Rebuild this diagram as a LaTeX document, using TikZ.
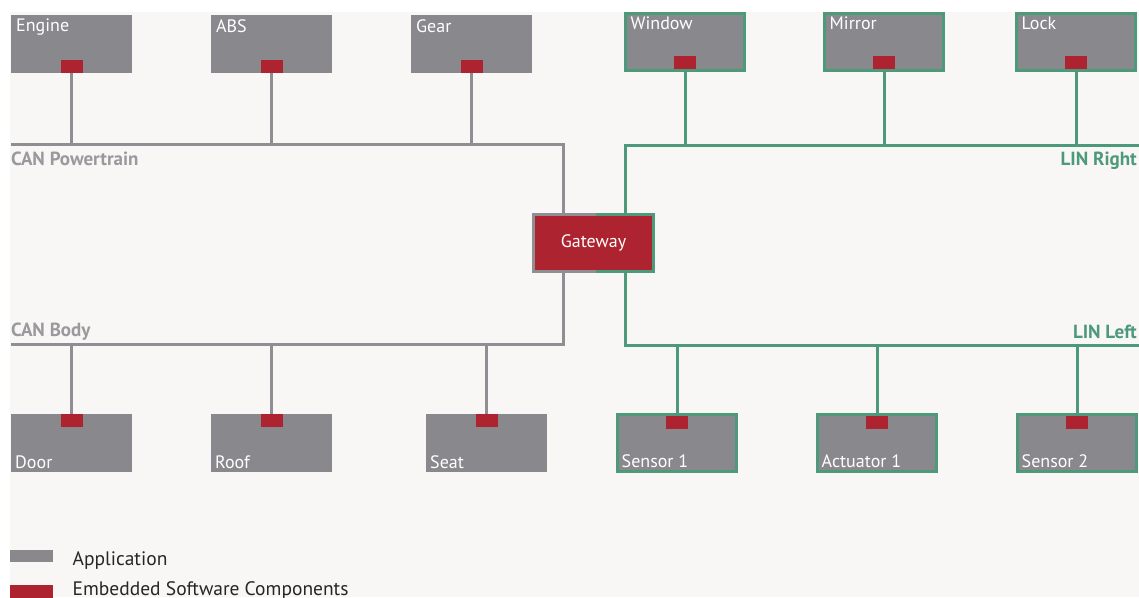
\documentclass[tikz,border=0pt]{standalone}
\usepackage{fontspec}
\setmainfont{PT Sans}
\usetikzlibrary{positioning}
\definecolor{appGray}{HTML}{89888C}
\definecolor{busGray}{HTML}{8F8E92}
\definecolor{lblGray}{HTML}{9A999D}
\definecolor{swcRed}{HTML}{AE2330}
\definecolor{linGreen}{HTML}{4D9A7A}
\definecolor{paper}{HTML}{F8F7F5}
\tikzset{
	ecu/.style={fill=appGray,minimum width=121pt,minimum height=58pt,inner sep=0pt,outer sep=0pt,anchor=north west},
	ecuLin/.style={ecu,draw=linGreen,line width=3pt,minimum width=119pt,minimum height=57pt},
	topTxt/.style={anchor=north west,text=white,inner sep=0pt,xshift=5pt,yshift=-4pt,font=\fontsize{18}{20}\selectfont},
	botTxt/.style={anchor=base west,text=white,inner sep=0pt,xshift=4pt,yshift=4pt,font=\fontsize{18}{20}\selectfont},
	swc/.style={fill=swcRed,minimum width=22pt,minimum height=13pt,inner sep=0pt,outer sep=0pt},
	canBus/.style={draw=busGray,line width=3pt},
	linBus/.style={draw=linGreen,line width=3pt},
	busLbl/.style={inner sep=0pt,font=\fontsize{19}{21}\selectfont\bfseries},
	legTxt/.style={inner sep=0pt,font=\fontsize{19.5}{21}\selectfont,text=black!85}
}
\begin{document}
\begin{tikzpicture}[x=1pt,y=-1pt]
	\useasboundingbox[fill=white] (0,0) rectangle (1139,597);
	\fill[paper] (10,12) rectangle (1139,597);
	% bus corners
	\coordinate (canPtW) at (11,144);
	\coordinate (canPtE) at (563,144);
	\coordinate (linRtW) at (625,145);
	\coordinate (linRtE) at (1139,145);
	\coordinate (canBdW) at (11,344);
	\coordinate (canBdE) at (563,344);
	\coordinate (linLfW) at (625,345);
	\coordinate (linLfE) at (1139,345);
	% top row
	\node[ecu,label={[topTxt]north west:Engine}] (engine) at (11,15) {};
	\node[ecu,label={[topTxt]north west:ABS}] (abs) at (211,15) {};
	\node[ecu,label={[topTxt]north west:Gear}] (gear) at (411,15) {};
	\node[ecuLin,label={[topTxt,yshift=1pt]north west:Window}] (window) at (625.5,13.5) {};
	\node[ecuLin,label={[topTxt,yshift=1pt]north west:Mirror}] (mirror) at (824.5,13.5) {};
	\node[ecuLin,label={[topTxt,yshift=1pt]north west:Lock}] (lock) at (1016.5,13.5) {};
	% bottom row
	\node[ecu,label={[botTxt]south west:Door}] (door) at (11,414) {};
	\node[ecu,label={[botTxt]south west:Roof}] (roof) at (211,414) {};
	\node[ecu,label={[botTxt]south west:Seat}] (seat) at (426,414) {};
	\node[ecuLin,label={[botTxt]south west:Sensor 1}] (sensorA) at (617.5,414.5) {};
	\node[ecuLin,label={[botTxt]south west:Actuator 1}] (actuator) at (817.5,414.5) {};
	\node[ecuLin,label={[botTxt]south west:Sensor 2}] (sensorB) at (1017.5,414.5) {};
	% gateway
	\node[fill=swcRed,minimum width=120pt,minimum height=57pt,inner sep=0pt,outer sep=0pt,text=white,font=\fontsize{18}{20}\selectfont] (gw) at (593.5,243) {Gateway};
	\draw[canBus] ([xshift=2.5pt]gw.north) -- (gw.north west) -- (gw.south west) -- ([xshift=2.5pt]gw.south);
	\draw[linBus] ([xshift=2.5pt]gw.north) -- (gw.north east) -- (gw.south east) -- ([xshift=2.5pt]gw.south);
	% embedded software components
	\foreach \n in {engine,abs,gear}
		\node[swc,anchor=south] (\n-swc) at (\n.south) {};
	\foreach \n in {window,mirror,lock}
		\node[swc,anchor=south] (\n-swc) at ([yshift=1.5pt]\n.south) {};
	\foreach \n in {door,roof,seat}
		\node[swc,anchor=north] (\n-swc) at (\n.north) {};
	\foreach \n in {sensorA,actuator,sensorB}
		\node[swc,anchor=north] (\n-swc) at ([yshift=-1.5pt]\n.north) {};
	% buses
	\draw[canBus] (canPtW) -- (canPtE) -- (gw.north -| canPtE);
	\draw[canBus] (canBdW) -- (canBdE) -- (gw.south -| canBdE);
	\draw[linBus] (linRtE) -- (linRtW) -- (gw.north -| linRtW);
	\draw[linBus] (linLfE) -- (linLfW) -- (gw.south -| linLfW);
	\foreach \n in {engine,abs,gear}
		\draw[canBus] (\n-swc.south) -- (\n-swc.south |- canPtW);
	\foreach \n in {window,mirror,lock}
		\draw[linBus] (\n.south) -- (\n.south |- linRtW);
	\foreach \n in {door,roof,seat}
		\draw[canBus] (\n-swc.north) -- (\n-swc.north |- canBdW);
	\foreach \n in {sensorA,actuator,sensorB}
		\draw[linBus] (\n.north) -- (\n.north |- linLfW);
	% bus labels
	\node[busLbl,text=lblGray,anchor=north west] (canPtLbl) at ([yshift=-8pt]canPtW) {CAN Powertrain};
	\node[busLbl,text=linGreen,anchor=north east] (linRtLbl) at ([xshift=-2pt,yshift=-7pt]linRtE) {LIN Right};
	\node[busLbl,text=lblGray,anchor=base west] (canBdLbl) at ([yshift=8pt]canBdW) {CAN Body};
	\node[busLbl,text=linGreen,anchor=base east] (linLfLbl) at ([xshift=-2pt,yshift=7pt]linLfE) {LIN Left};
	% legend
	\node[fill=appGray,minimum width=43pt,minimum height=12pt,inner sep=0pt,anchor=north west] (legApp) at (10,550) {};
	\node[legTxt,anchor=base west] (legAppTxt) at ([xshift=19pt,yshift=-3pt]legApp.south east) {Application};
	\node[fill=swcRed,minimum width=43pt,minimum height=13pt,inner sep=0pt,anchor=north west] (legSwc) at (10,585) {};
	\node[legTxt,anchor=base west] (legSwcTxt) at ([xshift=19pt,yshift=3pt]legSwc.south east) {Embedded Software Components};
\end{tikzpicture}
\end{document}
